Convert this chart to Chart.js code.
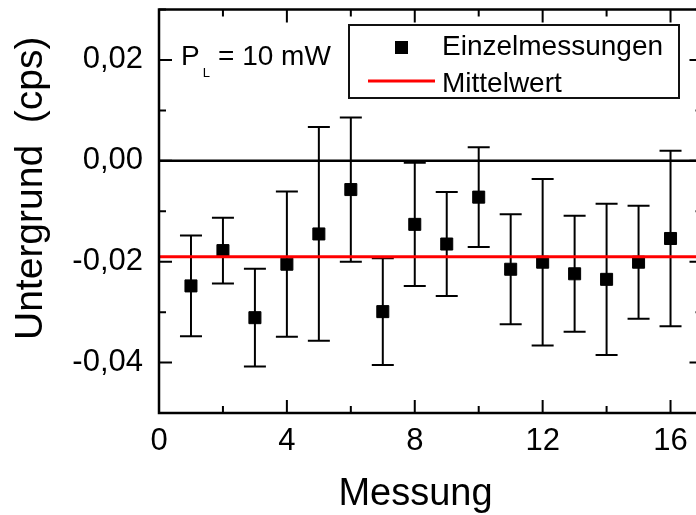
<!DOCTYPE html>
<html><head><meta charset="utf-8">
<script src="https://cdn.jsdelivr.net/npm/chart.js@4/dist/chart.umd.min.js"></script>
<style>
html,body{margin:0;padding:0;background:#fff;overflow:hidden;width:696px;height:515px;}
#wrap{position:absolute;left:0;top:0;width:712px;height:515px;}
</style></head><body>
<div id="wrap"><canvas id="c" width="712" height="515"></canvas></div>
<script>
// ---- data ----
const measurements = [1, 2, 3, 4, 5, 6, 7, 8, 9, 10, 11, 12, 13, 14, 15, 16];
const values = [-0.0248, -0.0178, -0.0311, -0.0205, -0.0145, -0.0057, -0.0299, -0.0126, -0.0165, -0.0072, -0.0215, -0.0201, -0.0224, -0.0235, -0.0201, -0.0154];
const errors = [0.0100, 0.0065, 0.0097, 0.0144, 0.0212, 0.0143, 0.0106, 0.0122, 0.0103, 0.0099, 0.0109, 0.0165, 0.0115, 0.0150, 0.0112, 0.0174];
const meanValue = -0.019;
const zeroValue = 0;
const xRange = [0, 17];
const yRange = [-0.05, 0.03];
const xLabelTicks = [0, 4, 8, 12, 16];
const yLabelTicks = [-0.04, -0.02, 0, 0.02];
const legendLabels = ['Einzelmessungen', 'Mittelwert'];
const annotationMain = 'P';
const annotationSub = 'L';
const annotationRest = '= 10 mW';
const xTitle = 'Messung';
const yTitle = 'Untergrund  (cps)';

const FONT = '"Liberation Sans", Arial, Helvetica, sans-serif';

const errorBarPlugin = {
  id: 'errorBars',
  beforeDatasetsDraw(chart) {
    const {ctx, scales: {x, y}, chartArea} = chart;
    ctx.save();
    ctx.beginPath();
    ctx.rect(chartArea.left, chartArea.top, chartArea.right - chartArea.left, chartArea.bottom - chartArea.top);
    ctx.clip();
    ctx.strokeStyle = '#000';
    ctx.lineWidth = 2;
    const cap = 11;
    measurements.forEach((m, i) => {
      const px = x.getPixelForValue(m);
      const pt = y.getPixelForValue(values[i] + errors[i]);
      const pb = y.getPixelForValue(values[i] - errors[i]);
      ctx.beginPath();
      ctx.moveTo(px, pt); ctx.lineTo(px, pb);
      ctx.moveTo(px - cap, pt); ctx.lineTo(px + cap, pt);
      ctx.moveTo(px - cap, pb); ctx.lineTo(px + cap, pb);
      ctx.stroke();
    });
    ctx.restore();
  }
};

const framePlugin = {
  id: 'frame',
  afterDraw(chart) {
    const {ctx, scales: {x, y}, chartArea: a} = chart;
    ctx.save();
    ctx.strokeStyle = '#000';
    ctx.lineWidth = 2;
    // ticks (inward, all four sides)
    x.ticks.forEach(t => {
      const v = Math.round(t.value);
      if (Math.abs(t.value - v) > 1e-9 || v % 2 !== 0) return;
      const len = (v % 4 === 0) ? 13 : 7;
      const px = x.getPixelForValue(t.value);
      ctx.beginPath();
      ctx.moveTo(px, a.bottom); ctx.lineTo(px, a.bottom - len);
      ctx.moveTo(px, a.top); ctx.lineTo(px, a.top + len);
      ctx.stroke();
    });
    y.ticks.forEach(t => {
      const n = Math.round(t.value * 100);
      const len = (n % 2 === 0) ? 13 : 7;
      const py = y.getPixelForValue(t.value);
      ctx.beginPath();
      ctx.moveTo(a.left, py); ctx.lineTo(a.left + len, py);
      ctx.moveTo(a.right, py); ctx.lineTo(a.right - len, py);
      ctx.stroke();
    });
    ctx.lineWidth = 2.5;
    ctx.strokeRect(a.left, a.top, a.right - a.left, a.bottom - a.top);

    // legend box
    ctx.lineWidth = 2;
    ctx.strokeStyle = '#111';
    ctx.fillStyle = '#fff';
    ctx.fillRect(349, 25, 330, 73);
    ctx.strokeRect(349, 25, 330, 73);
    ctx.fillStyle = '#000';
    ctx.fillRect(395, 41, 13, 13);
    ctx.strokeStyle = '#ff0000';
    ctx.lineWidth = 3;
    ctx.beginPath(); ctx.moveTo(368, 81); ctx.lineTo(435, 81); ctx.stroke();
    ctx.fillStyle = '#000';
    ctx.font = '28px ' + FONT;
    ctx.textBaseline = 'alphabetic';
    ctx.textAlign = 'left';
    ctx.fillText(legendLabels[0], 442, 55);
    ctx.fillText(legendLabels[1], 442, 92);

    // annotation P_L = 10 mW
    ctx.fillText(annotationMain, 181, 65);
    const pw = ctx.measureText(annotationMain).width;
    ctx.font = '13px ' + FONT;
    ctx.fillText(annotationSub, 181 + pw + 3, 77);
    ctx.font = '28px ' + FONT;
    ctx.fillText(annotationRest, 218, 65);

    // axis titles
    ctx.font = '38px ' + FONT;
    ctx.textAlign = 'center';
    ctx.fillText(xTitle, 415.5, 505);
    ctx.save();
    ctx.translate(42, 340);
    ctx.rotate(-Math.PI / 2);
    ctx.textAlign = 'left';
    ctx.font = '39px ' + FONT;
    ctx.fillText(yTitle, 0, 0);
    ctx.restore();
    ctx.restore();
  }
};

new Chart(document.getElementById('c'), {
  type: 'scatter',
  data: {
    datasets: [
      {
        label: legendLabels[1],
        type: 'line',
        data: [{x: xRange[0], y: meanValue}, {x: xRange[1], y: meanValue}],
        borderColor: '#ff0000',
        borderWidth: 3,
        pointRadius: 0,
        fill: false
      },
      {
        label: legendLabels[0],
        data: measurements.map((m, i) => ({x: m, y: values[i]})),
        pointStyle: 'rect',
        pointRadius: 8.5,
        backgroundColor: '#000',
        borderColor: '#000',
        borderWidth: 1
      },
      {
        label: 'zero',
        type: 'line',
        data: [{x: xRange[0], y: zeroValue}, {x: xRange[1], y: zeroValue}],
        borderColor: '#000',
        borderWidth: 2.5,
        pointRadius: 0,
        fill: false
      }
    ]
  },
  options: {
    responsive: false,
    animation: false,
    events: [],
    layout: {padding: {left: 0, right: 9, top: 4, bottom: 0}},
    plugins: {legend: {display: false}, tooltip: {enabled: false}},
    scales: {
      x: {
        type: 'linear', position: 'bottom', min: xRange[0], max: xRange[1],
        grid: {display: false, drawTicks: false},
        border: {display: false},
        ticks: {
          stepSize: 2, includeBounds: false, autoSkip: false, maxRotation: 0, color: '#000', padding: 10,
          font: {family: FONT, size: 31},
          callback: v => xLabelTicks.includes(v) ? String(v) : ''
        },
        afterFit: s => { s.height = 102; s.paddingLeft = 0; s.paddingRight = 0; }
      },
      y: {
        type: 'linear', position: 'left', min: yRange[0], max: yRange[1],
        grid: {display: false, drawTicks: false},
        border: {display: false},
        ticks: {
          stepSize: 0.01, autoSkip: false, color: '#000', padding: 16,
          font: {family: FONT, size: 31},
          callback: v => {
            const m = yLabelTicks.find(t => Math.abs(t - v) < 1e-9);
            return m === undefined ? '' : m.toFixed(2).replace('.', ',');
          }
        },
        afterFit: s => { s.width = 159; s.paddingTop = 0; s.paddingBottom = 0; }
      }
    }
  },
  plugins: [errorBarPlugin, framePlugin]
});
</script>
</body></html>
